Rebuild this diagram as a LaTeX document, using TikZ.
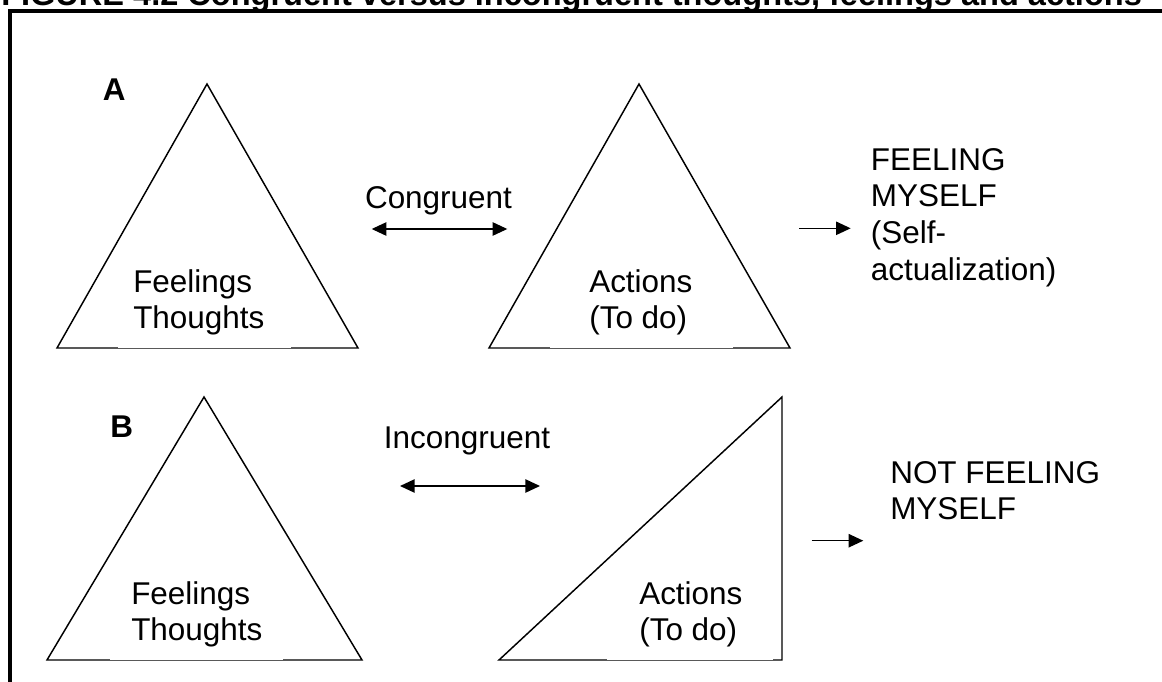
\documentclass[tikz,border=0pt]{standalone}
\usepackage{fontspec}
\setmainfont{Liberation Sans}
\usetikzlibrary{arrows.meta}
\begin{document}
\begin{tikzpicture}[x=0.75pt,y=-0.75pt,
  txt/.style={font=\fontsize{23.6}{27}\selectfont, inner sep=0pt},
  bold/.style={font=\bfseries\fontsize{23.6}{27}\selectfont, inner sep=0pt},
  tri/.style={draw=black, line width=1.1pt, line join=miter},
  boxbg/.style={fill=white, draw=none},
  link/.style={line width=1.1pt, {Triangle[length=11pt,width=10pt]}-{Triangle[length=11pt,width=10pt]}},
  lead/.style={line width=1.1pt, -{Triangle[length=11pt,width=10pt]}}]
\useasboundingbox (0,0) rectangle (1162,681);
\clip (0,0) rectangle (1162,681);

% caption and frame
\node[bold, font=\bfseries\fontsize{24.4}{28}\selectfont, anchor=base west] (title) at (1,6) {FIGURE 4.2 Congruent versus incongruent thoughts, feelings and actions};
\draw[line width=3pt] (10,11.5) rectangle (1200,720);

% row A
\node[bold, anchor=base west] (labA) at (102.7,100.7) {A};
\draw[tri] (207,84) -- (57,348) -- (358,348) -- cycle;
\draw[tri] (639,84) -- (489,348) -- (790,348) -- cycle;
% white text boxes resting on the base lines
\fill[boxbg] (117.7,250) rectangle (290.7,348.1);
\fill[boxbg] (550,250) rectangle (733.3,348.1);
\node[txt, anchor=base west] (fa1) at (133,292) {Feelings};
\node[txt, anchor=base west] (fa2) at (133,328) {Thoughts};
\node[txt, anchor=base west] (aa1) at (589,292) {Actions};
\node[txt, anchor=base west] (aa2) at (589,328) {(To do)};
\node[txt, anchor=base] (cong) at (438.5,208.3) {Congruent};
\coordinate (cl) at (371.7,229);
\coordinate (cr) at (507.3,229);
\draw[link] (cl) -- (cr);
\coordinate (ra1) at (799.3,228.3);
\coordinate (ra2) at (850.7,228.3);
\draw[lead] (ra1) -- (ra2);
\node[txt, anchor=base west] (ra) at (870.7,170.5) {FEELING};
\node[txt, anchor=base west] (rb) at (870.7,206.7) {MYSELF};
\node[txt, anchor=base west] (rc) at (870.7,243.3) {(Self-};
\node[txt, anchor=base west] (rd) at (870.7,280) {actualization)};

% row B
\node[bold, anchor=base west] (labB) at (110,437) {B};
\draw[tri] (204,397) -- (47,660) -- (362,660) -- cycle;
\draw[tri] (782,397) -- (499,660) -- (782,660) -- cycle;
\fill[boxbg] (110,562) rectangle (283.3,660.1);
\fill[boxbg] (606.7,562) rectangle (773.3,660.1);
\node[txt, anchor=base west] (fb1) at (131,604) {Feelings};
\node[txt, anchor=base west] (fb2) at (131,640) {Thoughts};
\node[txt, anchor=base west] (ab1) at (639,604) {Actions};
\node[txt, anchor=base west] (ab2) at (639,640) {(To do)};
\node[txt, anchor=base] (incong) at (467,448) {Incongruent};
\coordinate (il) at (400,486);
\coordinate (ir) at (540,486);
\draw[link] (il) -- (ir);
\coordinate (rb1) at (811.7,540.7);
\coordinate (rb2) at (863.3,540.7);
\draw[lead] (rb1) -- (rb2);
\node[txt, anchor=base west] (na) at (890,483.3) {NOT FEELING};
\node[txt, anchor=base west] (nb) at (890,519.3) {MYSELF};
\end{tikzpicture}
\end{document}
